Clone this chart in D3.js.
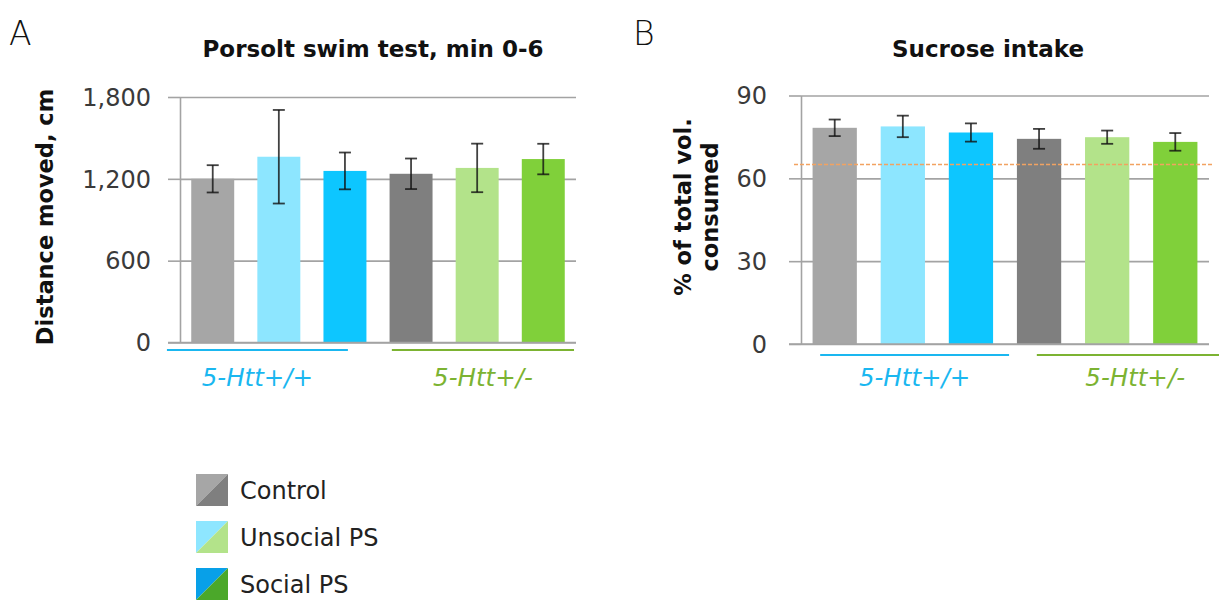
<!DOCTYPE html>
<html>
<head>
<meta charset="utf-8">
<script src="https://cdn.jsdelivr.net/npm/d3@7"></script>
<style>
  html, body { margin: 0; padding: 0; background: #fff; }
  svg { display: block; font-family: "DejaVu Sans", sans-serif; }
</style>
</head>
<body>
<svg id="fig" width="1219" height="600"></svg>
<script>
// Genotype groups and housing conditions
const genotypes = ["5-Htt+/+", "5-Htt+/-"];
const conditions = ["Control", "Unsocial PS", "Social PS"];

// Bar order: conditions within each genotype
const barKeys = ["wt-control", "wt-unsocial", "wt-social", "het-control", "het-unsocial", "het-social"];
const barColors = ["#a6a6a6", "#8de6ff", "#0dc6ff", "#7f7f7f", "#b3e38a", "#80d03a"];

// Panel A: Porsolt swim test, distance moved (cm), mean ± SEM
const swimMean = [1200, 1362, 1258, 1237, 1280, 1345];
const swimSem = [100, 343, 135, 112, 178, 112];
const swimTicks = [0, 600, 1200, 1800];

// Panel B: sucrose intake, % of total volume consumed, mean ± SEM
const sucroseMean = [78.3, 78.8, 76.6, 74.3, 74.9, 73.2];
const sucroseSem = [3.0, 3.9, 3.3, 3.6, 2.4, 3.2];
const sucroseTicks = [0, 30, 60, 90];
const sucroseThreshold = 65;

// Legend swatches: wild-type colour / heterozygous colour
const legendWt = ["#a6a6a6", "#8ee6ff", "#08a0e8"];
const legendHet = ["#7f7f7f", "#b3e38a", "#4ba82a"];

const genotypeColors = ["#1ab7f0", "#7cb332"];

const svg = d3.select("#fig");

function panel(opts) {
  const g = svg.append("g");
  const x = d3.scaleBand().domain(barKeys).range(opts.xr).paddingInner(0.35).paddingOuter(0.17);
  const y = d3.scaleLinear().domain(opts.domain).range(opts.yr);
  const plotW = opts.xr[1] - opts.xr[0];

  // horizontal gridlines with short outside tick marks
  const grid = g.append("g").attr("transform", `translate(${opts.xr[0]},0)`)
    .call(d3.axisLeft(y).tickValues(opts.ticks).tickSize(-plotW).tickFormat(""));
  grid.select(".domain").remove();
  grid.selectAll("line").attr("stroke", "#a3a3a3").attr("stroke-width", 1.6);

  const ax = g.append("g").attr("transform", `translate(${opts.xr[0]},0)`)
    .call(d3.axisLeft(y).tickValues(opts.ticks).tickSize(12).tickSizeOuter(0)
      .tickPadding(opts.tickPad).tickFormat(d3.format(",")));
  ax.select(".domain").attr("stroke", "#a3a3a3").attr("stroke-width", 1.6);
  ax.selectAll(".tick line").attr("stroke", "#a3a3a3").attr("stroke-width", 1.6);
  ax.selectAll(".tick text").attr("fill", "#3a3a3a").attr("font-size", 24)
    .attr("font-family", "DejaVu Sans").attr("dy", "0.34em");

  // bars
  g.append("g").selectAll("rect").data(opts.mean).join("rect")
    .attr("x", (d, i) => x(barKeys[i]))
    .attr("width", x.bandwidth())
    .attr("y", d => y(d))
    .attr("height", d => y(0) - y(d))
    .attr("fill", (d, i) => barColors[i]);

  // baseline redrawn over the bars
  g.append("line").attr("x1", opts.xr[0] - 12).attr("x2", opts.xr[1])
    .attr("y1", y(0)).attr("y2", y(0)).attr("stroke", "#a3a3a3").attr("stroke-width", 1.6);

  // reference line
  if (opts.ref != null) {
    g.append("line").attr("x1", opts.xr[0] - 7).attr("x2", opts.xr[1] + 4)
      .attr("y1", y(opts.ref)).attr("y2", y(opts.ref))
      .attr("stroke", "#f2a261").attr("stroke-width", 1.6).attr("stroke-dasharray", "4,2");
  }

  // error bars
  const eb = g.append("g").attr("stroke", "#111").attr("stroke-opacity", 0.8).attr("stroke-width", 1.8);
  opts.mean.forEach((m, i) => {
    const cx = x(barKeys[i]) + x.bandwidth() / 2;
    const lo = y(m - opts.sem[i]), hi = y(m + opts.sem[i]);
    eb.append("line").attr("x1", cx).attr("x2", cx).attr("y1", lo).attr("y2", hi);
    eb.append("line").attr("x1", cx - 6).attr("x2", cx + 6).attr("y1", lo).attr("y2", lo);
    eb.append("line").attr("x1", cx - 6).attr("x2", cx + 6).attr("y1", hi).attr("y2", hi);
  });

  // genotype underlines and labels
  opts.groupSpans.forEach((s, i) => {
    const x1 = opts.xr[0] + s[0] * plotW, x2 = opts.xr[0] + s[1] * plotW;
    g.append("line").attr("x1", x1).attr("x2", x2)
      .attr("y1", opts.groupLineY).attr("y2", opts.groupLineY)
      .attr("stroke", genotypeColors[i]).attr("stroke-width", 2);
    g.append("text").attr("x", (x1 + x2) / 2).attr("y", 386)
      .attr("text-anchor", "middle").attr("font-style", "italic").attr("font-size", 24.5)
      .attr("fill", genotypeColors[i]).text(genotypes[i]);
  });

  // title
  g.append("text").attr("x", opts.titleX).attr("y", 57).attr("text-anchor", "middle")
    .attr("font-weight", "bold").attr("font-size", 23).attr("fill", "#111")
    .text(opts.title);

  // panel letter
  g.append("text").attr("x", opts.letterX).attr("y", 45).attr("font-size", 33)
    .attr("font-weight", 200).attr("fill", "#111").text(opts.letter);

  // y-axis title
  opts.yLabel.forEach((t, k) => {
    g.append("text")
      .attr("transform", `translate(${opts.yLabelX[k]},${opts.yLabelY}) rotate(-90)`)
      .attr("text-anchor", "middle").attr("dy", "0.35em")
      .attr("font-weight", "bold").attr("font-size", opts.yLabelSize).attr("fill", "#111")
      .text(t);
  });
}

panel({
  xr: [180, 576], yr: [342.5, 97], domain: [0, 1800], ticks: swimTicks,
  mean: swimMean, sem: swimSem, tickPad: 17,
  groupSpans: [[-0.033, 0.424], [0.535, 0.995]], groupLineY: 350,
  title: "Porsolt swim test, min 0-6", titleX: 373,
  letter: "A", letterX: 9,
  yLabel: ["Distance moved, cm"], yLabelX: [45], yLabelY: 217, yLabelSize: 22.5
});

panel({
  xr: [801, 1209], yr: [344, 95.5], domain: [0, 90], ticks: sucroseTicks,
  mean: sucroseMean, sem: sucroseSem, tickPad: 22, ref: sucroseThreshold,
  groupSpans: [[0.047, 0.51], [0.578, 1.06]], groupLineY: 355,
  title: "Sucrose intake", titleX: 988,
  letter: "B", letterX: 633,
  yLabel: ["% of total vol.", "consumed"], yLabelX: [683, 710], yLabelY: 207, yLabelSize: 22.5
});

// legend: each swatch split diagonally into the two genotype colours
const lg = svg.append("g").attr("transform", "translate(196,474)");
conditions.forEach((c, i) => {
  const row = lg.append("g").attr("transform", `translate(0,${i * 47})`);
  const s = 32;
  row.append("path").attr("d", `M0,0H${s}L0,${s}Z`).attr("fill", legendWt[i]);
  row.append("path").attr("d", `M${s},0V${s}H0Z`).attr("fill", legendHet[i]);
  row.append("text").attr("x", 44).attr("y", s / 2).attr("dy", "0.36em")
    .attr("font-size", 24).attr("fill", "#222").text(c);
});
</script>
</body>
</html>
